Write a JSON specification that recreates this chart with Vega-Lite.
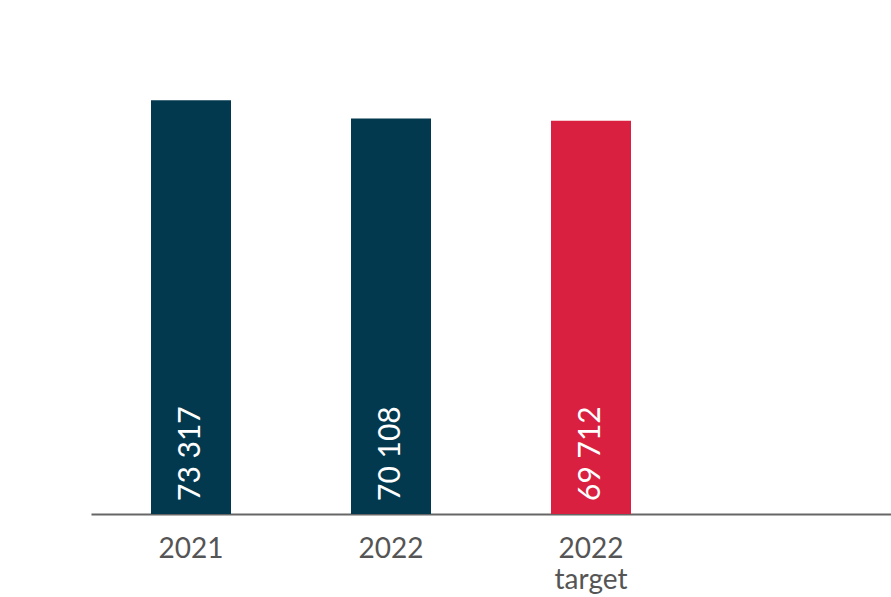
{
  "$schema": "https://vega.github.io/schema/vega-lite/v6.json",
  "autosize": "none",
  "padding": {"left": 91, "top": 0, "right": 0, "bottom": 83},
  "width": 800,
  "height": 514,
  "background": "white",
  "config": {"view": {"stroke": null}, "font": "Lato"},
  "data": {
    "values": [
      {"period": "2021", "value": 73317, "label": "73 317", "kind": "actual"},
      {"period": "2022", "value": 70108, "label": "70 108", "kind": "actual"},
      {"period": "2022 target", "value": 69712, "label": "69 712", "kind": "target"}
    ]
  },
  "encoding": {
    "x": {
      "field": "period",
      "type": "nominal",
      "sort": null,
      "title": null,
      "scale": {"domain": ["2021", "2022", "2022 target", "empty"], "paddingInner": 0.6, "paddingOuter": 0.3},
      "axis": {
        "labelAngle": 0,
        "labelExpr": "datum.value == '2022 target' ? ['2022', 'target'] : (datum.value == 'empty' ? '' : datum.label)",
        "labelFontSize": 28,
        "labelColor": "#555555",
        "labelPadding": 21,
        "labelLineHeight": 31,
        "ticks": false,
        "domainColor": "#666666",
        "domainWidth": 2,
        "grid": false
      }
    },
    "y": {
      "field": "value",
      "type": "quantitative",
      "scale": {"domain": [0, 91100], "nice": false},
      "axis": null
    }
  },
  "layer": [
    {
      "mark": {"type": "bar"},
      "encoding": {
        "color": {
          "field": "kind",
          "type": "nominal",
          "scale": {"domain": ["actual", "target"], "range": ["#02394f", "#d92040"]},
          "legend": null
        }
      }
    },
    {
      "mark": {"type": "text", "angle": -90, "align": "left", "baseline": "middle", "dx": 13, "fontSize": 30, "color": "white"},
      "encoding": {
        "y": {"datum": 0, "type": "quantitative"},
        "text": {"field": "label"}
      }
    }
  ]
}
